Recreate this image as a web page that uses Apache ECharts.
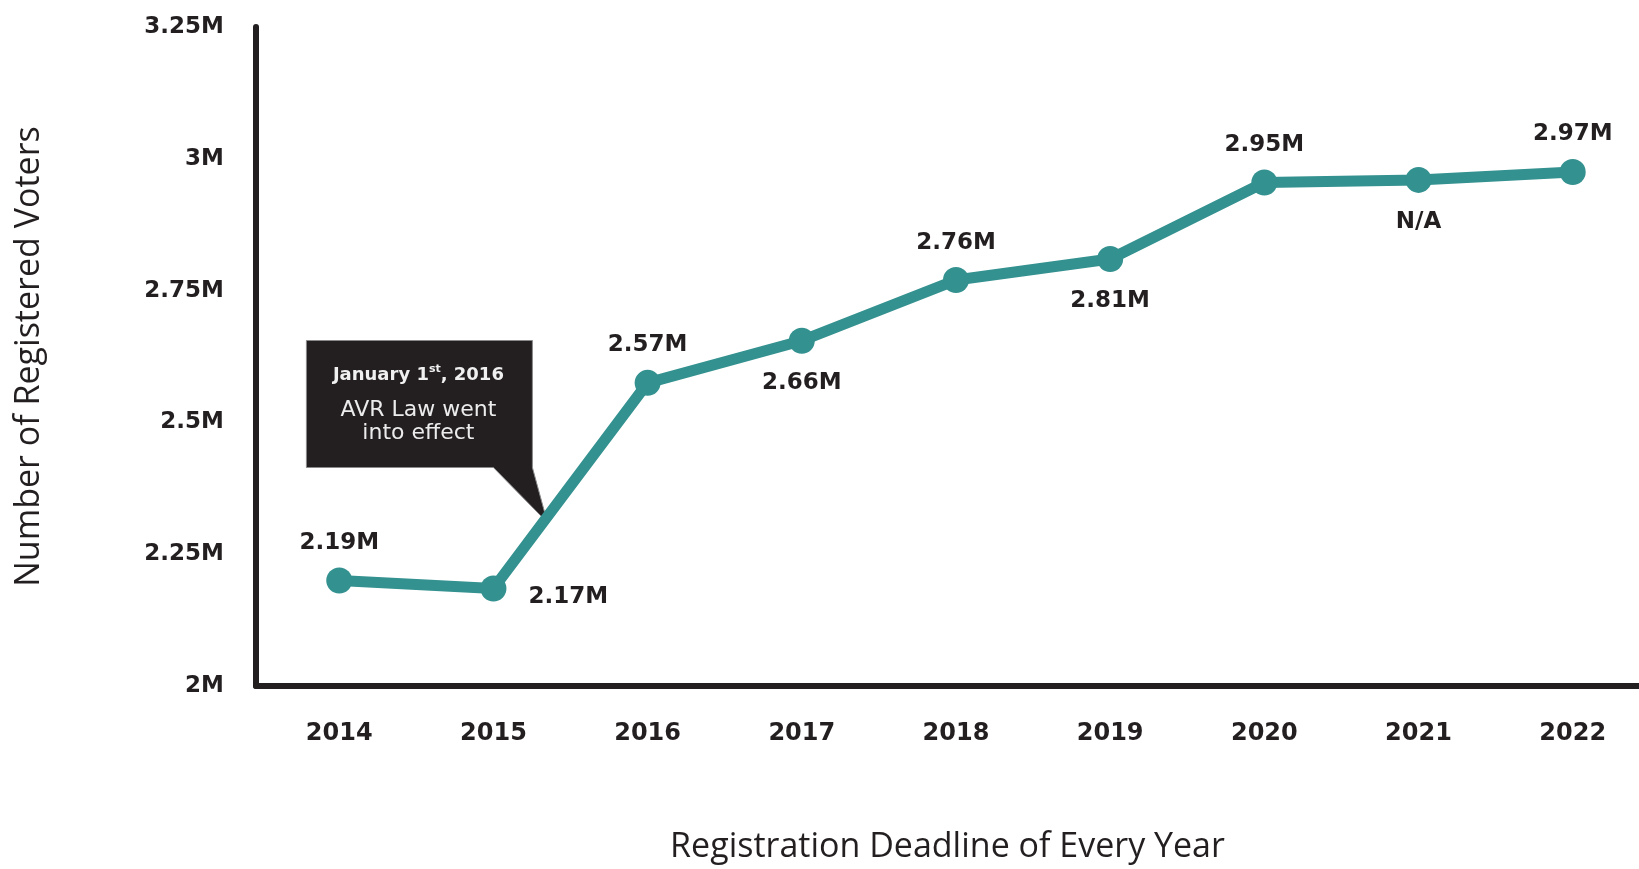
<!DOCTYPE html>
<html><head><meta charset="utf-8">
<script src="https://cdn.jsdelivr.net/npm/echarts@6/dist/echarts.min.js"></script>
<style>html,body{margin:0;padding:0;background:#fff}#c{width:1639px;height:869px}</style>
</head><body><div id="c"></div>
<script>
// ---- data ----
const years = ['2014','2015','2016','2017','2018','2019','2020','2021','2022'];
const voters = [2.20, 2.185, 2.575, 2.655, 2.77, 2.81, 2.955, 2.96, 2.975]; // millions, as plotted
const pointLabels = ['2.19M','2.17M','2.57M','2.66M','2.76M','2.81M','2.95M','N/A','2.97M'];
const yTicks = [2, 2.25, 2.5, 2.75, 3, 3.25];
const yTickLabels = ['2M','2.25M','2.5M','2.75M','3M','3.25M'];
const xTitle = 'Registration Deadline of Every Year';
const yTitle = 'Number of Registered Voters';
const noteHead = ['January 1', 'st', ', 2016'];
const noteBody = ['AVR Law went', 'into effect'];
const noteAt = 1.35; // between 2015 and 2016

// ---- style config ----
const INK = '#231f20';
const TEAL = '#33918f';
const labelSide = ['top','right','top','bottom','top','bottom','top','bottom','top'];
const sideCfg = {
  top: {position:'top', distance:13},
  bottom: {position:'bottom', distance:18},
  right: {position:'right', distance:22, offset:[0,9]}
};

const chart = echarts.init(document.getElementById('c'), null, {renderer:'canvas'});
const axisLineStyle = {color: INK, width: 6, cap: 'round'};

chart.setOption({
  animation: false,
  backgroundColor: '#fff',
  grid: {left: 256, right: 0, top: 27, bottom: 176, containLabel: false},
  xAxis: {
    type: 'value', min: -0.54, max: 8.43,
    axisLine: {show: true, onZero: false, lineStyle: axisLineStyle},
    axisTick: {show: false},
    splitLine: {show: false},
    axisLabel: {
      customValues: years.map((_, i) => i),
      formatter: v => years[Math.round(v)],
      fontFamily: 'DejaVu Sans', fontWeight: 'bold', fontSize: 24, color: INK, margin: 36
    },
    name: xTitle, nameLocation: 'middle', nameGap: 144,
    nameTextStyle: {fontFamily: 'Open Sans', fontSize: 34, color: INK}
  },
  yAxis: {
    type: 'value', min: 2, max: 3.25, interval: 0.25,
    axisLine: {show: true, onZero: false, lineStyle: axisLineStyle},
    axisTick: {show: false},
    splitLine: {show: false},
    axisLabel: {
      formatter: v => {
        const k = yTicks.findIndex(t => Math.abs(t - v) < 1e-6);
        return k >= 0 ? yTickLabels[k] : '';
      },
      fontFamily: 'DejaVu Sans', fontWeight: 'bold', fontSize: 23, color: INK, margin: 32
    },
    name: yTitle, nameLocation: 'middle', nameRotate: 90, nameGap: 210,
    nameTextStyle: {fontFamily: 'Open Sans', fontSize: 34, color: INK}
  },
  series: [{
    type: 'line',
    data: voters.map((v, i) => ({value: [i, v], label: sideCfg[labelSide[i]]})),
    symbol: 'circle', symbolSize: 26,
    lineStyle: {width: 11, color: TEAL},
    itemStyle: {color: TEAL},
    label: {
      show: true,
      formatter: p => pointLabels[p.dataIndex],
      fontFamily: 'DejaVu Sans', fontWeight: 'bold', fontSize: 23, color: INK
    },
    z: 5
  }]
});

// ---- annotation anchored to the line ----
const i0 = Math.floor(noteAt), f = noteAt - i0;
const yOnLine = voters[i0] + f * (voters[i0 + 1] - voters[i0]);
const tip = chart.convertToPixel({gridIndex: 0}, [noteAt, yOnLine]);
chart.setOption({
  graphic: [{
    type: 'group', x: tip[0], y: tip[1] + 6, z: 1,
    children: [
      {type: 'polygon', shape: {points: [[-241,-182],[-15,-182],[-15,-55],[0,0],[-54,-55],[-241,-55]]},
       style: {fill: INK, stroke: '#8a8a8a', lineWidth: 1}},
      {type: 'text', x: -129, y: -147,
       style: {text: '{a|' + noteHead[0] + '}{s|' + noteHead[1] + '}{a|' + noteHead[2] + '}',
         align: 'center', verticalAlign: 'middle',
         rich: {
           a: {fill: '#f0f0f0', fontFamily: 'DejaVu Sans', fontWeight: 'bold', fontSize: 18, lineHeight: 24},
           s: {fill: '#f0f0f0', fontFamily: 'DejaVu Sans', fontWeight: 'bold', fontSize: 11, lineHeight: 14, verticalAlign: 'top'}
         }}},
      {type: 'text', x: -129, y: -112,
       style: {text: noteBody[0], align: 'center', verticalAlign: 'middle', fill: '#ececec',
         fontFamily: 'DejaVu Sans', fontSize: 22}},
      {type: 'text', x: -129, y: -89,
       style: {text: noteBody[1], align: 'center', verticalAlign: 'middle', fill: '#ececec',
         fontFamily: 'DejaVu Sans', fontSize: 22}}
    ]
  }]
});
</script>
</body></html>
